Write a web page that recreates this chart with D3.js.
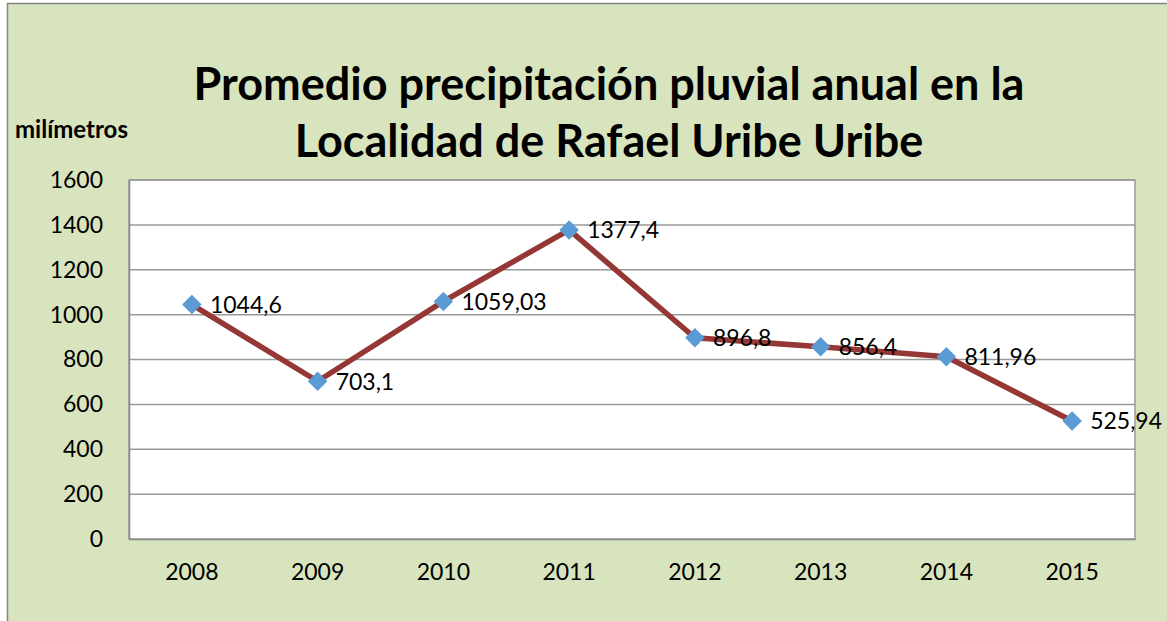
<!DOCTYPE html>
<html>
<head>
<meta charset="utf-8">
<script src="https://cdn.jsdelivr.net/npm/d3@7"></script>
<style>
  body { margin: 0; background: #fff; }
  svg { display: block; }
  text { font-family: Lato, "Open Sans", sans-serif; fill: #000; }
</style>
</head>
<body>
<svg id="chart" width="1167" height="621"></svg>
<script>
// Chart data
const years = ["2008", "2009", "2010", "2011", "2012", "2013", "2014", "2015"];
const rainfall = [1044.6, 703.1, 1059.03, 1377.4, 896.8, 856.4, 811.96, 525.94];
const valueLabels = ["1044,6", "703,1", "1059,03", "1377,4", "896,8", "856,4", "811,96", "525,94"];
const yTicks = [0, 200, 400, 600, 800, 1000, 1200, 1400, 1600];
const titleLines = ["Promedio precipitación pluvial anual en la", "Localidad de Rafael Uribe Uribe"];

const svg = d3.select("#chart");

// chart background with border
svg.append("rect")
  .attr("x", 7.5).attr("y", 3.5)
  .attr("width", 1170).attr("height", 630)
  .attr("fill", "#d7e4bd")
  .attr("stroke", "#868686")
  .attr("stroke-width", 1.5);

const plot = { left: 129, top: 180, right: 1135, bottom: 539 };

const x = d3.scaleBand()
  .domain(years)
  .range([plot.left, plot.right]);

const y = d3.scaleLinear()
  .domain([0, 1600])
  .range([plot.bottom, plot.top]);

// plot area
svg.append("rect")
  .attr("x", plot.left).attr("y", plot.top)
  .attr("width", plot.right - plot.left)
  .attr("height", plot.bottom - plot.top)
  .attr("fill", "#fff")
  .attr("stroke", "#9a9a9a")
  .attr("stroke-width", 1.5);

// gridlines
svg.append("g")
  .selectAll("line")
  .data(yTicks.filter(d => d > 0))
  .join("line")
  .attr("x1", plot.left).attr("x2", plot.right)
  .attr("y1", d => y(d)).attr("y2", d => y(d))
  .attr("stroke", "#9a9a9a")
  .attr("stroke-width", 1.5);

// y axis
const yAxis = svg.append("g")
  .attr("transform", `translate(${plot.left},0)`)
  .call(d3.axisLeft(y).tickValues(yTicks).tickFormat(d3.format("d")).tickSize(0).tickPadding(26));
yAxis.select(".domain").attr("stroke", "#8a8a8a").attr("stroke-width", 1.5);
yAxis.selectAll("text").style("font-size", "23px").attr("font-family", null);

// x axis
const xAxis = svg.append("g")
  .attr("transform", `translate(0,${plot.bottom})`)
  .call(d3.axisBottom(x).tickSize(0).tickPadding(25));
xAxis.select(".domain").attr("stroke", "#8a8a8a").attr("stroke-width", 1.5);
xAxis.selectAll("text").style("font-size", "23px").attr("font-family", null);

const cx = d => x(d) + x.bandwidth() / 2;

// the line
const line = d3.line()
  .x((d, i) => cx(years[i]))
  .y(d => y(d));

svg.append("path")
  .datum(rainfall)
  .attr("d", line)
  .attr("fill", "none")
  .attr("stroke", "#953735")
  .attr("stroke-width", 5.5)
  .attr("stroke-linejoin", "round");

// diamond markers
svg.append("g")
  .selectAll("path")
  .data(rainfall)
  .join("path")
  .attr("d", d3.symbol(d3.symbolSquare, 190))
  .attr("transform", (d, i) => `translate(${cx(years[i])},${y(d)}) rotate(45)`)
  .attr("fill", "#5b9bd5");

// value labels
svg.append("g")
  .selectAll("text")
  .data(rainfall)
  .join("text")
  .attr("x", (d, i) => cx(years[i]) + 18)
  .attr("y", d => y(d))
  .attr("dy", "0.36em")
  .style("font-size", "23px")
  .text((d, i) => valueLabels[i]);

// title
svg.append("g")
  .selectAll("text")
  .data(titleLines)
  .join("text")
  .attr("x", 609)
  .attr("y", (d, i) => 100 + i * 57)
  .attr("text-anchor", "middle")
  .style("font-size", "45px")
  .style("font-weight", "bold")
  .text(d => d);

// axis title
svg.append("text")
  .attr("x", 15)
  .attr("y", 138)
  .style("font-size", "24px")
  .style("font-weight", "bold")
  .text("milímetros");
</script>
</body>
</html>
